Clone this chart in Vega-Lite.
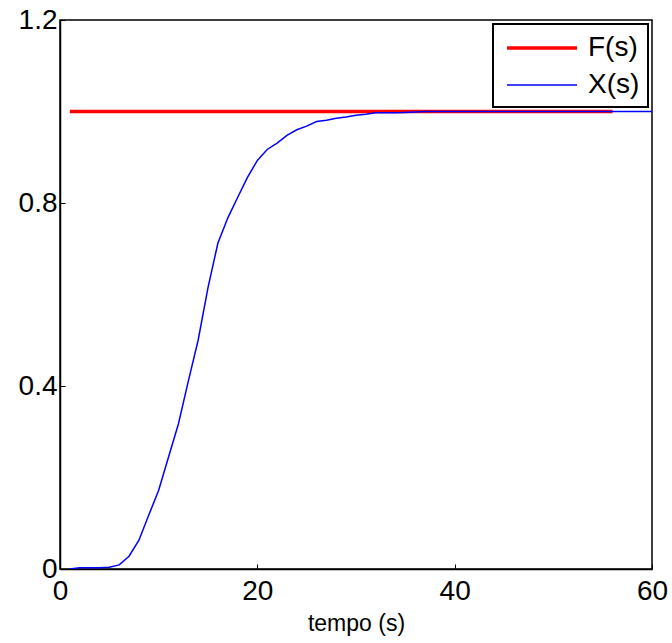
{
  "$schema": "https://vega.github.io/schema/vega-lite/v6.json",
  "width": 592,
  "height": 549,
  "autosize": "none",
  "padding": {"left": 60, "top": 20, "right": 20, "bottom": 74},
  "background": "white",
  "config": {
    "font": "Liberation Sans",
    "view": {"stroke": "black", "strokeWidth": 1.5},
    "axis": {"grid": false, "domainColor": "black", "domainWidth": 1.5, "tickColor": "black", "labelColor": "black", "titleColor": "black", "labelFont": "Liberation Sans", "titleFont": "Liberation Sans"}
  },
  "data": {
    "values": [
      {"t": 1, "v": 1, "series": "F(s)"},
      {"t": 56, "v": 1, "series": "F(s)"},
      {"t": 1, "v": 0, "series": "X(s)"},
      {"t": 2, "v": 0.003, "series": "X(s)"},
      {"t": 3, "v": 0.003, "series": "X(s)"},
      {"t": 4, "v": 0.003, "series": "X(s)"},
      {"t": 5, "v": 0.004, "series": "X(s)"},
      {"t": 6, "v": 0.009, "series": "X(s)"},
      {"t": 7, "v": 0.028, "series": "X(s)"},
      {"t": 8, "v": 0.063, "series": "X(s)"},
      {"t": 9, "v": 0.118, "series": "X(s)"},
      {"t": 10, "v": 0.172, "series": "X(s)"},
      {"t": 11, "v": 0.245, "series": "X(s)"},
      {"t": 12, "v": 0.317, "series": "X(s)"},
      {"t": 13, "v": 0.41, "series": "X(s)"},
      {"t": 14, "v": 0.5, "series": "X(s)"},
      {"t": 15, "v": 0.615, "series": "X(s)"},
      {"t": 16, "v": 0.712, "series": "X(s)"},
      {"t": 17, "v": 0.767, "series": "X(s)"},
      {"t": 18, "v": 0.812, "series": "X(s)"},
      {"t": 19, "v": 0.856, "series": "X(s)"},
      {"t": 20, "v": 0.893, "series": "X(s)"},
      {"t": 21, "v": 0.917, "series": "X(s)"},
      {"t": 22, "v": 0.931, "series": "X(s)"},
      {"t": 23, "v": 0.948, "series": "X(s)"},
      {"t": 24, "v": 0.96, "series": "X(s)"},
      {"t": 25, "v": 0.968, "series": "X(s)"},
      {"t": 26, "v": 0.978, "series": "X(s)"},
      {"t": 27, "v": 0.981, "series": "X(s)"},
      {"t": 28, "v": 0.985, "series": "X(s)"},
      {"t": 29, "v": 0.988, "series": "X(s)"},
      {"t": 30, "v": 0.992, "series": "X(s)"},
      {"t": 31, "v": 0.994, "series": "X(s)"},
      {"t": 32, "v": 0.997, "series": "X(s)"},
      {"t": 33, "v": 0.997, "series": "X(s)"},
      {"t": 34, "v": 0.997, "series": "X(s)"},
      {"t": 35, "v": 0.998, "series": "X(s)"},
      {"t": 36, "v": 0.999, "series": "X(s)"},
      {"t": 37, "v": 1.0, "series": "X(s)"},
      {"t": 40, "v": 1.0, "series": "X(s)"},
      {"t": 45, "v": 1.0, "series": "X(s)"},
      {"t": 50, "v": 1.0, "series": "X(s)"},
      {"t": 55, "v": 1.0, "series": "X(s)"},
      {"t": 60, "v": 1.0, "series": "X(s)"}
    ]
  },
  "mark": {"type": "line", "clip": true},
  "encoding": {
    "x": {
      "field": "t", "type": "quantitative",
      "scale": {"domain": [0, 60], "nice": false, "zero": false},
      "axis": {"values": [0, 20, 40, 60], "title": "tempo (s)", "titleFontSize": 23, "titleFontWeight": "normal", "titlePadding": 7, "labelFontSize": 28, "tickSize": -5, "labelPadding": 13, "labelFlush": false}
    },
    "y": {
      "field": "v", "type": "quantitative",
      "scale": {"domain": [0, 1.2], "nice": false},
      "axis": {"values": [0, 0.4, 0.8, 1.2], "format": ".2~f", "title": null, "labelFontSize": 28, "tickSize": -5, "labelPadding": 8, "labelFlush": false}
    },
    "color": {
      "field": "series", "type": "nominal",
      "scale": {"domain": ["F(s)", "X(s)"], "range": ["#ff0000", "#0000ff"]},
      "legend": {
        "title": null, "orient": "top-right", "offset": 4,
        "fillColor": "white", "strokeColor": "black",
        "padding": 8, "symbolType": "M-2.5,0H2.5", "symbolSize": 784,
        "symbolOffset": 25, "labelOffset": 30, "labelFontSize": 28, "labelColor": "black",
        "rowPadding": 8,
        "encode": {
          "legend": {"update": {"strokeWidth": {"value": 2}}},
          "symbols": {"update": {"strokeWidth": {"signal": "datum.value === 'F(s)' ? 3.5 : 1.5"}}}
        }
      }
    },
    "strokeWidth": {
      "field": "series", "type": "nominal",
      "scale": {"domain": ["F(s)", "X(s)"], "range": [3.5, 1.5]},
      "legend": null
    }
  }
}
